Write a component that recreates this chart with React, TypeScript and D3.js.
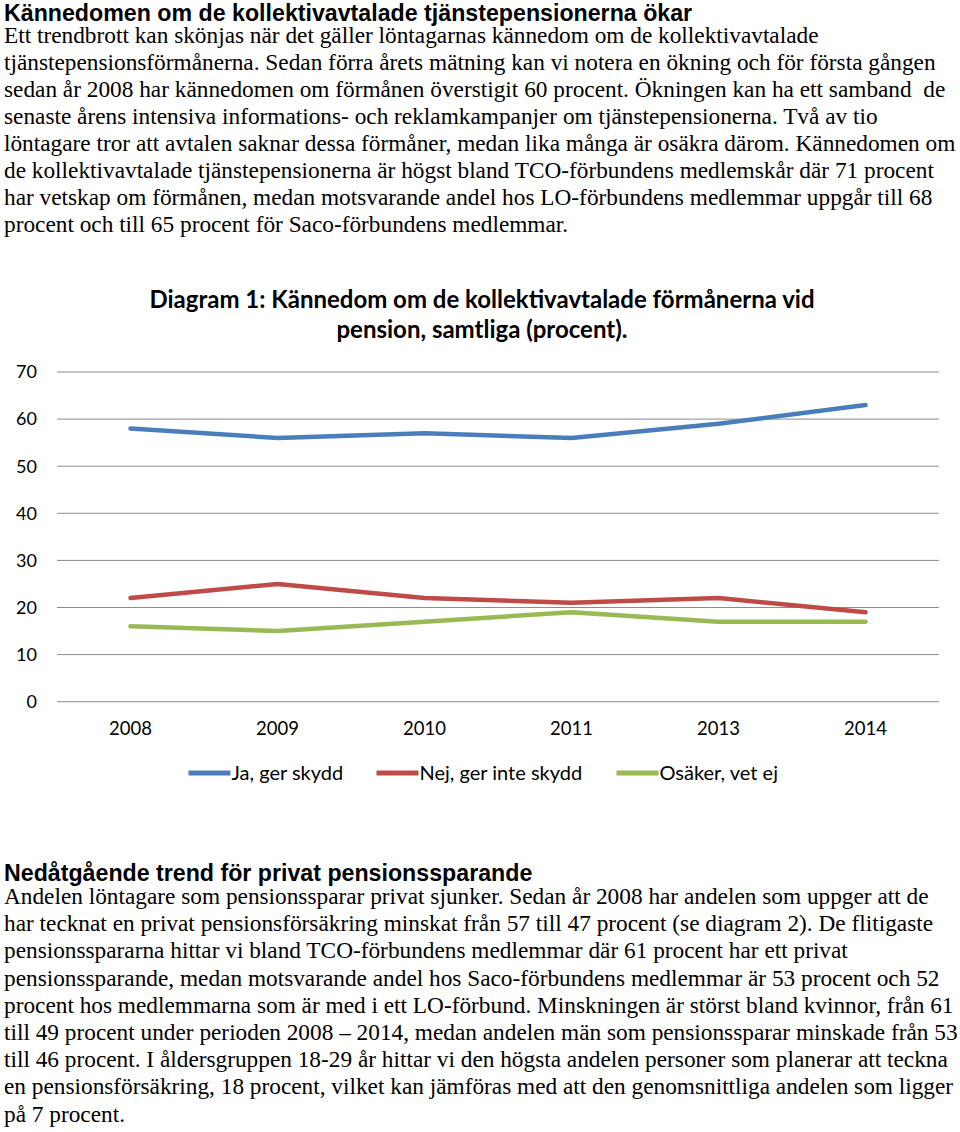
import React from "react";
import * as d3 from "d3";

const years = ["2008", "2009", "2010", "2011", "2013", "2014"];
const jaValues = [58, 56, 57, 56, 59, 63];
const nejValues = [22, 25, 22, 21, 22, 19];
const osakerValues = [16, 15, 17, 19, 17, 17];
const seriesNames = ["Ja, ger skydd", "Nej, ger inte skydd", "Osäker, vet ej"];
const seriesColors = ["#4A7EBB", "#BE4B48", "#98B954"];
const yTicks = [0, 10, 20, 30, 40, 50, 60, 70];

const heading1 = "Kännedomen om de kollektivavtalade tjänstepensionerna ökar";
const para1 = [
  "Ett trendbrott kan skönjas när det gäller löntagarnas kännedom om de kollektivavtalade",
  "tjänstepensionsförmånerna. Sedan förra årets mätning kan vi notera en ökning och för första gången",
  "sedan år 2008 har kännedomen om förmånen överstigit 60 procent. Ökningen kan ha ett samband  de",
  "senaste årens intensiva informations- och reklamkampanjer om tjänstepensionerna. Två av tio",
  "löntagare tror att avtalen saknar dessa förmåner, medan lika många är osäkra därom. Kännedomen om",
  "de kollektivavtalade tjänstepensionerna är högst bland TCO-förbundens medlemskår där 71 procent",
  "har vetskap om förmånen, medan motsvarande andel hos LO-förbundens medlemmar uppgår till 68",
  "procent och till 65 procent för Saco-förbundens medlemmar.",
];
const chartTitle = [
  "Diagram 1: Kännedom om de kollektivavtalade förmånerna vid",
  "pension, samtliga (procent).",
];
const heading2 = "Nedåtgående trend för privat pensionssparande";
const para2 = [
  "Andelen löntagare som pensionssparar privat sjunker. Sedan år 2008 har andelen som uppger att de",
  "har tecknat en privat pensionsförsäkring minskat från 57 till 47 procent (se diagram 2). De flitigaste",
  "pensionsspararna hittar vi bland TCO-förbundens medlemmar där 61 procent har ett privat",
  "pensionssparande, medan motsvarande andel hos Saco-förbundens medlemmar är 53 procent och 52",
  "procent hos medlemmarna som är med i ett LO-förbund. Minskningen är störst bland kvinnor, från 61",
  "till 49 procent under perioden 2008 – 2014, medan andelen män som pensionssparar minskade från 53",
  "till 46 procent. I åldersgruppen 18-29 år hittar vi den högsta andelen personer som planerar att teckna",
  "en pensionsförsäkring, 18 procent, vilket kan jämföras med att den genomsnittliga andelen som ligger",
  "på 7 procent.",
];

const W = 960;
const H = 1132;
const serif = "'Liberation Serif', 'Times New Roman', serif";
const sans = "'Liberation Sans', Arial, sans-serif";
const chartFont = "Lato, 'Open Sans', sans-serif";

export default function App() {
  const x = d3.scalePoint<string>().domain(years).range([57, 939]).padding(0.5);
  const y = d3.scaleLinear().domain([0, 70]).range([701.7, 372]);
  const series = [jaValues, nejValues, osakerValues];
  const line = d3
    .line<number>()
    .x((_, i) => x(years[i]) as number)
    .y((d) => y(d));

  const legendX = [188.5, 376.5, 616.5];

  return (
    <svg
      width={W}
      height={H}
      viewBox={`0 0 ${W} ${H}`}
      style={{ position: "absolute", left: 0, top: 0, background: "#fff" }}
    >
      <rect x={0} y={0} width={W} height={H} fill="#fff" />
      <text x={4} y={20.5} fontFamily={sans} fontWeight="bold" fontSize={23.2} fill="#000">
        {heading1}
      </text>
      {para1.map((t, i) => (
        <text
          key={"p1" + i}
          x={4}
          y={43.3 + i * 26.9}
          fontFamily={serif}
          fontSize={23.3}
          fill="#000"
          style={{ whiteSpace: "pre" }}
        >
          {t}
        </text>
      ))}

      {/* chart */}
      {chartTitle.map((t, i) => (
        <text
          key={"ct" + i}
          x={482}
          y={308 + i * 30}
          textAnchor="middle"
          fontFamily={chartFont}
          fontWeight="bold"
          fontSize={24}
          fill="#000"
        >
          {t}
        </text>
      ))}
      {yTicks.map((v) => (
        <g key={"yt" + v}>
          <line x1={57} x2={939} y1={y(v)} y2={y(v)} stroke="#8C8C8C" strokeWidth={1} />
          <text
            x={37}
            y={y(v)}
            dy="0.35em"
            textAnchor="end"
            fontFamily={chartFont}
            fontSize={18}
            fill="#000"
          >
            {v}
          </text>
        </g>
      ))}
      {years.map((yr) => (
        <text
          key={"xt" + yr}
          x={x(yr) as number}
          y={734.5}
          textAnchor="middle"
          fontFamily={chartFont}
          fontSize={18.5}
          fill="#000"
        >
          {yr}
        </text>
      ))}
      {series.map((s, i) => (
        <path
          key={"s" + i}
          d={line(s) || ""}
          fill="none"
          stroke={seriesColors[i]}
          strokeWidth={4.5}
          strokeLinejoin="round"
          strokeLinecap="round"
        />
      ))}
      {seriesNames.map((n, i) => (
        <g key={"lg" + i}>
          <line
            x1={legendX[i]}
            x2={legendX[i] + 42}
            y1={773}
            y2={773}
            stroke={seriesColors[i]}
            strokeWidth={5}
          />
          <text
            x={legendX[i] + 43}
            y={773}
            dy="0.35em"
            fontFamily={chartFont}
            fontSize={20}
            fill="#000"
          >
            {n}
          </text>
        </g>
      ))}

      <text x={4} y={881} fontFamily={sans} fontWeight="bold" fontSize={23.2} fill="#000">
        {heading2}
      </text>
      {para2.map((t, i) => (
        <text
          key={"p2" + i}
          x={4}
          y={904 + i * 27.2}
          fontFamily={serif}
          fontSize={23.3}
          fill="#000"
          style={{ whiteSpace: "pre" }}
        >
          {t}
        </text>
      ))}
    </svg>
  );
}
